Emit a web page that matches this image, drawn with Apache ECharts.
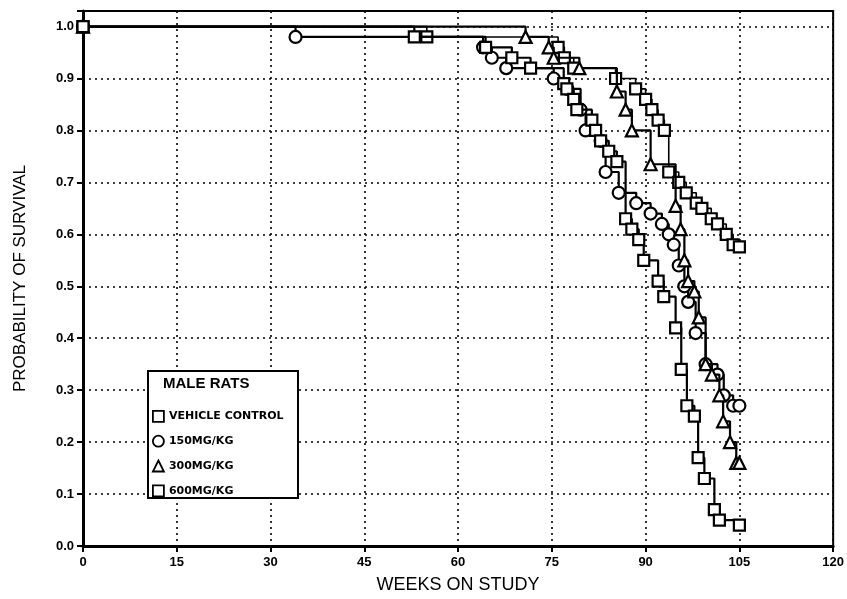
<!DOCTYPE html>
<html>
<head>
<meta charset="utf-8">
<script src="https://cdn.jsdelivr.net/npm/echarts@6/dist/echarts.min.js"></script>
<style>
html,body{margin:0;padding:0;background:#fff;}
#c{width:847px;height:599px;}
</style>
</head>
<body>
<div id="c"></div>
<script>
// Data: [week, probability of survival]
const xTicks = [0, 15, 30, 45, 60, 75, 90, 105, 120];
const yTicks = [0.0, 0.1, 0.2, 0.3, 0.4, 0.5, 0.6, 0.7, 0.8, 0.9, 1.0];

const vehicleControl = [[0,1.0],[55,0.98],[76,0.96],[77,0.94],[78.5,0.92],[85.2,0.90],[88.4,0.88],[90,0.86],[91,0.84],[92,0.82],[93,0.80],[93.7,0.72],[95.3,0.70],[96.5,0.68],[98.1,0.66],[99,0.65],[100.5,0.63],[101.5,0.62],[102.9,0.60],[104,0.58],[105,0.576]];
const mg150 = [[0,1.0],[34,0.98],[64,0.96],[65.4,0.94],[67.7,0.92],[75.3,0.90],[77.5,0.88],[79.6,0.84],[80.4,0.80],[82.8,0.78],[83.6,0.72],[85.7,0.68],[88.5,0.66],[90.8,0.64],[92.6,0.62],[93.7,0.60],[94.5,0.58],[95.3,0.54],[96.2,0.50],[96.8,0.47],[98,0.41],[99.6,0.35],[101.5,0.33],[102.5,0.29],[104,0.27],[105,0.27]];
const mg300 = [[0,1.0],[70.8,0.98],[74.5,0.96],[75.3,0.94],[79.4,0.92],[85.4,0.875],[86.8,0.84],[87.8,0.80],[90.8,0.735],[94.8,0.655],[95.6,0.61],[96.2,0.55],[96.8,0.51],[97.8,0.49],[98.5,0.44],[99.6,0.35],[100.6,0.33],[101.8,0.29],[102.4,0.24],[103.5,0.20],[104.5,0.16],[105,0.16]];
const mg600 = [[0,1.0],[53,0.98],[64.4,0.96],[68.6,0.94],[71.6,0.92],[76.9,0.89],[77.4,0.88],[78.5,0.86],[79,0.84],[81.4,0.82],[82,0.80],[82.8,0.78],[84.1,0.76],[85.4,0.74],[86.8,0.63],[87.8,0.61],[88.9,0.59],[89.7,0.55],[92,0.51],[92.9,0.48],[94.8,0.42],[95.7,0.34],[96.6,0.27],[97.8,0.25],[98.4,0.17],[99.4,0.13],[101,0.07],[101.8,0.05],[105,0.04]];

const seriesNames = ['VEHICLE CONTROL', '150MG/KG', '300MG/KG', '600MG/KG'];
const seriesData = [vehicleControl, mg150, mg300, mg600];
const symbols = ['rect', 'circle', 'triangle', 'rect'];
const symbolSizes = [11, 12, 12, 11];

const chart = echarts.init(document.getElementById('c'), null, {renderer: 'canvas'});

const markStyle = {color: '#fff', borderColor: '#000', borderWidth: 2.2};

const option = {
  backgroundColor: '#fff',
  animation: false,
  grid: {left: 83, right: 12, top: 11, bottom: 51, show: true, borderColor: '#000', borderWidth: 2, backgroundColor: 'transparent'},
  xAxis: {
    type: 'value', min: 0, max: 120, interval: 15,
    name: 'WEEKS ON STUDY', nameLocation: 'middle', nameGap: 30,
    nameTextStyle: {fontFamily: 'Liberation Sans', fontSize: 18, color: '#000'},
    axisLine: {show: true, lineStyle: {color: '#000', width: 3}},
    axisTick: {show: true, length: 6, lineStyle: {color: '#000', width: 2}},
    axisLabel: {color: '#000', fontFamily: 'Liberation Sans', fontWeight: 'bold', fontSize: 13, margin: 10,
      formatter: v => xTicks.includes(v) ? String(v) : ''},
    splitLine: {show: true, lineStyle: {color: '#000', type: [2, 4], width: 1.6}}
  },
  yAxis: {
    type: 'value', min: 0, max: 1.03, interval: 0.1,
    name: 'PROBABILITY OF SURVIVAL', nameLocation: 'middle', nameGap: 54, nameRotate: 90,
    nameTextStyle: {fontFamily: 'Liberation Sans', fontSize: 17, color: '#000'},
    axisLine: {show: true, lineStyle: {color: '#000', width: 3}},
    axisTick: {show: true, length: 6, lineStyle: {color: '#000', width: 2}},
    axisLabel: {color: '#000', fontFamily: 'Liberation Sans', fontWeight: 'bold', fontSize: 13, margin: 9,
      formatter: v => {
        const t = yTicks.find(k => Math.abs(k - v) < 1e-6);
        return t === undefined ? '' : t.toFixed(1);
      }},
    splitLine: {show: true, lineStyle: {color: '#000', type: [2, 4], width: 1.6}}
  },
  legend: {
    orient: 'vertical', left: 152, top: 410,
    itemWidth: 11, itemHeight: 11, itemGap: 12, padding: 0,
    textStyle: {fontFamily: 'DejaVu Sans', fontWeight: 'bold', fontSize: 11, color: '#000'},
    z: 20,
    data: seriesNames.map((n, i) => ({name: n, icon: symbols[i], itemStyle: {color: '#fff', borderColor: '#000', borderWidth: 1.8}}))
  },
  graphic: [
    {type: 'rect', z: 15, shape: {x: 148, y: 371, width: 150, height: 127},
      style: {fill: '#fff', stroke: '#000', lineWidth: 2}},
    {type: 'text', z: 16, left: 163, top: 376,
      style: {text: 'MALE RATS', fill: '#000', font: 'bold 15px "Liberation Sans Narrow", "Liberation Sans"'}}
  ],
  series: seriesData.map((d, i) => ({
    name: seriesNames[i], type: 'line', step: 'end', data: d,
    symbol: symbols[i], symbolSize: symbolSizes[i], showAllSymbol: true,
    lineStyle: {color: '#000', width: i === 0 ? 1.6 : 2.2},
    itemStyle: markStyle, z: 5 + i
  }))
};
chart.setOption(option);
</script>
</body>
</html>
